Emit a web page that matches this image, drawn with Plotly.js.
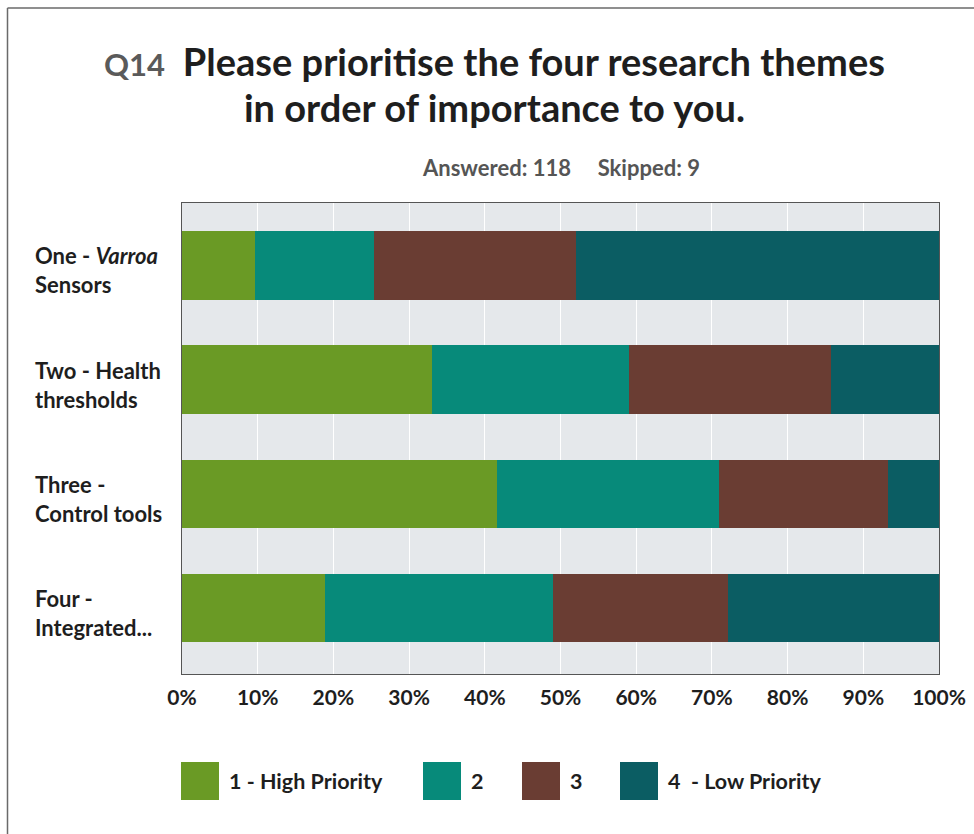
<!DOCTYPE html>
<html>
<head>
<meta charset="utf-8">
<script src="https://cdn.plot.ly/plotly-3.0.1.min.js"></script>
<style>
html,body{margin:0;padding:0;background:#fff;}
#chart{width:974px;height:834px;}
</style>
</head>
<body>
<div id="chart"></div>
<script>
// ---- data ----
var categories = ["One", "Two", "Three", "Four"];
var categoryLabels = ["One - <i>Varroa</i><br>Sensors", "Two - Health<br>thresholds", "Three -<br>Control tools", "Four -<br>Integrated..."];
var seriesNames = ["1 - High Priority", "2", "3", "4&nbsp;&nbsp;- Low Priority"];
var priority1 = [9.7, 33.0, 41.6, 18.9];
var priority2 = [15.7, 26.1, 29.3, 30.1];
var priority3 = [26.7, 26.6, 22.4, 23.1];
var priority4 = [47.9, 14.3, 6.7, 27.9];
var xTickValues = [0, 10, 20, 30, 40, 50, 60, 70, 80, 90, 100];
var xTickLabels = ["0%", "10%", "20%", "30%", "40%", "50%", "60%", "70%", "80%", "90%", "100%"];
var titleQ = "Q14";
var titleLine1 = "Please prioritise the four research themes";
var titleLine2 = "in order of importance to you.";
var subtitle = "Answered: 118&nbsp;&nbsp;&nbsp;&nbsp;&nbsp;Skipped: 9";

// ---- styling / layout ----
var colors = ["#6a9a25", "#078a7a", "#6a3d33", "#0b5d63"];
var FONT = "Lato, 'Open Sans', sans-serif";
var W = 974, H = 834;
var L = 182, R = 939, T = 203, B = 674;
function xp(px){ return (px - L) / (R - L); }
function yp(py){ return (B - py) / (B - T); }

var allSeries = [priority1, priority2, priority3, priority4];
var traces = allSeries.map(function(vals, i){
  return {
    type: 'bar', orientation: 'h',
    y: categories, x: vals,
    name: seriesNames[i],
    marker: {color: colors[i], line: {width: 0}},
    width: 0.6,
    showlegend: false,
    hoverinfo: 'x+name'
  };
});

var annotations = [];
// title (one text block; base size sets the line spacing)
annotations.push({
  xref: 'paper', yref: 'paper', x: xp(494), y: yp(84), xanchor: 'center', yanchor: 'middle',
  showarrow: false, align: 'center',
  text: "<span style='color:#5a5a5a;font-size:31px'>" + titleQ + "</span>&nbsp;<span style='font-size:38px'>&nbsp;" + titleLine1 +
        "</span><br><span style='font-size:38px'>" + titleLine2 + "</span>",
  font: {family: FONT, size: 35.4, color: '#1e1e1e', weight: 'bold'}
});
annotations.push({
  xref: 'paper', yref: 'paper', x: xp(561), y: yp(167), xanchor: 'center', yanchor: 'middle',
  showarrow: false, text: subtitle,
  font: {family: FONT, size: 22, color: '#555555', weight: 'bold'}
});
// category labels
categories.forEach(function(c, i){
  annotations.push({
    xref: 'paper', yref: 'y', x: xp(33), y: c, xanchor: 'left', yanchor: 'middle',
    align: 'left', showarrow: false, text: categoryLabels[i], yshift: -5,
    font: {family: FONT, size: 22, color: '#1e1e1e', weight: 'bold'}
  });
});

// custom legend
var shapes = [];
var legendSquareX = [181, 423, 522, 620];
seriesNames.forEach(function(n, i){
  var x0 = legendSquareX[i];
  shapes.push({type: 'rect', xref: 'paper', yref: 'paper',
    x0: xp(x0), x1: xp(x0 + 38), y0: yp(800), y1: yp(762),
    fillcolor: colors[i], line: {width: 0}});
  annotations.push({
    xref: 'paper', yref: 'paper', x: xp(x0 + 46), y: yp(781), xanchor: 'left', yanchor: 'middle',
    showarrow: false, text: n,
    font: {family: FONT, size: 21.5, color: '#1e1e1e', weight: 'bold'}
  });
});

// page border (scan frame)
shapes.push({type: 'line', xref: 'paper', yref: 'paper', x0: xp(7.5), x1: xp(7.5), y0: yp(8), y1: yp(834), line: {color: '#6a6a6a', width: 1.5}});
shapes.push({type: 'line', xref: 'paper', yref: 'paper', x0: xp(7.5), x1: xp(974), y0: yp(8), y1: yp(8), line: {color: '#6a6a6a', width: 1.5}});

var layout = {
  width: W, height: H,
  margin: {l: L, r: W - R, t: T, b: H - B, pad: 0},
  paper_bgcolor: '#ffffff',
  plot_bgcolor: '#e5e8eb',
  barmode: 'stack',
  showlegend: false,
  xaxis: {
    range: [0, 100], tickmode: 'array', tickvals: xTickValues, ticktext: xTickLabels,
    showgrid: true, gridcolor: '#ffffff', gridwidth: 1,
    zeroline: false, showline: true, linecolor: '#555555', linewidth: 1, mirror: true,
    ticks: '', ticklabelstandoff: 5,
    tickfont: {family: FONT, size: 21, color: '#1e1e1e', weight: 'bold'},
    fixedrange: true
  },
  yaxis: {
    type: 'category', categoryorder: 'array', categoryarray: categories,
    range: [3.578, -0.547],
    showticklabels: false, showgrid: false, zeroline: false,
    showline: true, linecolor: '#555555', linewidth: 1, mirror: true,
    ticks: '', fixedrange: true
  },
  annotations: annotations,
  shapes: shapes,
  font: {family: FONT}
};

Plotly.newPlot('chart', traces, layout, {displayModeBar: false, staticPlot: true});
</script>
</body>
</html>
